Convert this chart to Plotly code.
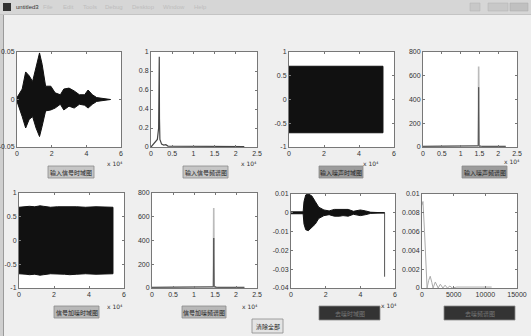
import plotly.graph_objects as go

W, H = 531, 336

# ---------------- data ----------------
# 1) input signal, time domain envelope (samples, amplitude)
sig_x = [0, 3000, 5000, 7000, 9000, 11000, 13000, 14500, 16500, 19500, 22000, 25000,
         27000, 30000, 33000, 36000, 39000, 41000, 43500, 46000, 54000]
sig_up = [0.002, 0.011, 0.029, 0.025, 0.019, 0.035, 0.049, 0.037, 0.014, 0.014, 0.007, 0.005,
          0.011, 0.012, 0.009, 0.005, 0.005, 0.010, 0.005, 0.002, 0.0]
sig_lo = [-0.002, -0.018, -0.030, -0.021, -0.018, -0.030, -0.039, -0.028, -0.012, -0.011, -0.009, -0.005,
          -0.011, -0.007, -0.009, -0.005, -0.006, -0.009, -0.005, -0.002, 0.0]

# 2) input signal spectrum
sf_x = [0, 500, 1000, 1500, 1800, 1950, 2000, 2100, 2500, 3000, 3500, 4000, 22000]
sf_y = [0.0, 0.03, 0.05, 0.08, 0.2, 0.95, 0.3, 0.08, 0.03, 0.02, 0.025, 0.01, 0.005]

# 3) input noise, time domain envelope
noise_x = [0, 53700]
noise_up = [0.70, 0.70]
noise_lo = [-0.70, -0.70]

# 4) input noise spectrum
nf_x = [0, 14000, 14700, 14800, 14900, 15600, 22000]
nf_y = [5, 5, 10, 678, 10, 5, 5]
nf_core = [5, 5, 10, 503, 10, 5, 5]

# 5) signal + noise, time domain envelope
mix_x = [0, 4000, 6000, 9000, 12000, 14000, 18000, 22000, 26000, 29000, 33000, 38000, 44000, 53700]
mix_up = [0.70, 0.71, 0.72, 0.71, 0.73, 0.72, 0.70, 0.71, 0.71, 0.72, 0.71, 0.70, 0.71, 0.70]
mix_lo = [-0.70, -0.71, -0.72, -0.71, -0.73, -0.72, -0.70, -0.71, -0.71, -0.72, -0.71, -0.70, -0.71, -0.70]

# 6) signal + noise spectrum
mf_x = [0, 14000, 14600, 14700, 14800, 15500, 22000]
mf_y = [5, 5, 10, 674, 10, 5, 5]
mf_core = [5, 5, 10, 421, 10, 5, 5]

# 7) denoised, time domain envelope
den_x = [0, 7000, 7500, 8500, 10000, 12000, 14000, 16000, 19000, 22000, 25000, 28000, 30000,
         33000, 36000, 40000, 43000, 46000, 54000]
den_up = [0.0005, 0.0005, 0.006, 0.0095, 0.010, 0.009, 0.006, 0.003, 0.0015, 0.001, 0.0018, 0.0018,
          0.0015, 0.0018, 0.0008, 0.0015, 0.001, 0.0003, 0.0]
den_lo = [-0.0005, -0.0005, -0.006, -0.009, -0.0095, -0.008, -0.006, -0.003, -0.0015, -0.001, -0.0018,
          -0.0018, -0.0015, -0.0018, -0.0008, -0.0015, -0.001, -0.0003, 0.0]
den_end_x = [0, 54000, 54000]
den_end_y = [0.0, 0.0, -0.034]

# 8) denoised spectrum
df_x = [0, 150, 400, 800, 1050, 1300, 1550, 1750, 2100, 2550, 2900, 3300, 3650, 4000, 4400,
        4800, 5500, 11000]
df_y = [0.0088, 0.0092, 0.006, 0.0, 0.0008, 0.00125, 0.0006, 0.0, 0.00064, 0.0, 0.0004, 0.0,
        0.0003, 0.0, 0.0002, 0.0, 0.0001, 0.0001]

# tick labels
t_time_vals = [0, 20000, 40000, 60000]
t_time_text = ["0", "2", "4", "6"]
t_freq_vals = [0, 5000, 10000, 15000, 20000, 25000]
t_freq_text = ["0", "0.5", "1", "1.5", "2", "2.5"]

buttons = ["输入信号时域图", "输入信号频谱图", "输入噪声时域图", "输入噪声频谱图",
           "信号加噪时域图", "信号加噪频谱图", "去噪时域图", "去噪频谱图", "清除全部"]
menu_items = ["File", "Edit", "Tools", "Debug", "Desktop", "Window", "Help"]

# ---------------- figure ----------------
fig = go.Figure()

def px_x(p):
    return p / W

def px_y(p):
    return 1 - p / H

# plot boxes in pixels: (left, right, top, bottom)
boxes = [
    (17, 121, 52, 147), (151, 257, 52, 147), (289, 394, 52, 147), (423, 517, 52, 147),
    (19, 124, 193, 288), (152, 257, 193, 288), (291, 395, 194, 288), (422, 517, 194, 288),
]

def env(i, xs, up, lo):
    fig.add_trace(go.Scatter(x=xs + xs[::-1], y=up + lo[::-1], fill="toself",
                             fillcolor="#111111", line=dict(color="#111111", width=1),
                             mode="lines", xaxis=f"x{i}", yaxis=f"y{i}", hoverinfo="skip"))

def line(i, xs, ys, color, width=1):
    fig.add_trace(go.Scatter(x=xs, y=ys, mode="lines", line=dict(color=color, width=width),
                             xaxis=f"x{i}", yaxis=f"y{i}", hoverinfo="skip"))

env(1, sig_x, sig_up, sig_lo)
line(2, sf_x, sf_y, "#444444", 1.2)
env(3, noise_x, noise_up, noise_lo)
line(4, nf_x, nf_y, "#bbbbbb", 1.6)
line(4, nf_x, nf_core, "#555555", 1)
env(5, mix_x, mix_up, mix_lo)
line(6, mf_x, mf_y, "#bbbbbb", 1.6)
line(6, mf_x, mf_core, "#555555", 1)
line(7, den_end_x, den_end_y, "#555555", 1)
env(7, den_x, den_up, den_lo)
line(8, df_x, df_y, "#aaaaaa", 1)

axis_common = dict(showgrid=False, zeroline=False, showline=True, linecolor="#777777",
                   linewidth=1, mirror="ticks", ticks="inside", ticklen=2, tickcolor="#777777",
                   tickfont=dict(size=7, color="#333333", family="Liberation Sans"),
                   fixedrange=True, automargin=False)

yspecs = [
    ([-0.05, 0.05], [-0.05, 0, 0.05], ["-0.05", "0", "0.05"]),
    ([0, 1], [0, 0.2, 0.4, 0.6, 0.8, 1], ["0", "0.2", "0.4", "0.6", "0.8", "1"]),
    ([-1, 1], [-1, -0.5, 0, 0.5, 1], ["-1", "-0.5", "0", "0.5", "1"]),
    ([0, 800], [0, 200, 400, 600, 800], ["0", "200", "400", "600", "800"]),
    ([-1, 1], [-1, -0.5, 0, 0.5, 1], ["-1", "-0.5", "0", "0.5", "1"]),
    ([0, 800], [0, 200, 400, 600, 800], ["0", "200", "400", "600", "800"]),
    ([-0.04, 0.01], [-0.04, -0.03, -0.02, -0.01, 0, 0.01],
     ["-0.04", "-0.03", "-0.02", "-0.01", "0", "0.01"]),
    ([0, 0.01], [0, 0.002, 0.004, 0.006, 0.008, 0.01],
     ["0", "0.002", "0.004", "0.006", "0.008", "0.01"]),
]
xspecs = [
    ([0, 60000], t_time_vals, t_time_text),
    ([0, 25000], t_freq_vals, t_freq_text),
    ([0, 60000], t_time_vals, t_time_text),
    ([0, 25000], t_freq_vals, t_freq_text),
    ([0, 60000], t_time_vals, t_time_text),
    ([0, 25000], t_freq_vals, t_freq_text),
    ([0, 60000], t_time_vals, t_time_text),
    ([0, 15000], [0, 5000, 10000, 15000], ["0", "5000", "10000", "15000"]),
]

layout = dict(width=W, height=H, margin=dict(l=0, r=0, t=0, b=0, autoexpand=False),
              paper_bgcolor="#efefef", plot_bgcolor="#ffffff", showlegend=False)
for i, (l, r, t, b) in enumerate(boxes, start=1):
    xr, xv, xt = xspecs[i - 1]
    yr, yv, yt = yspecs[i - 1]
    layout[f"xaxis{i}"] = dict(axis_common, domain=[px_x(l), px_x(r)], range=xr,
                               tickvals=xv, ticktext=xt, anchor=f"y{i}")
    layout[f"yaxis{i}"] = dict(axis_common, domain=[px_y(b), px_y(t)], range=yr,
                               tickvals=yv, ticktext=yt, anchor=f"x{i}")
fig.update_layout(**layout)

shapes = []
annos = []

def rect(x0, y0, x1, y1, fill, line_color=None, lw=0):
    shapes.append(dict(type="rect", xref="paper", yref="paper",
                       x0=px_x(x0), x1=px_x(x1), y0=px_y(y1), y1=px_y(y0),
                       fillcolor=fill, line=dict(color=line_color or fill, width=lw), layer="below"))

def text(x, y, s, size=6, color="#222222", xanchor="center", family="Noto Sans CJK SC"):
    annos.append(dict(x=px_x(x), y=px_y(y), xref="paper", yref="paper", text=s, showarrow=False,
                      xanchor=xanchor, yanchor="middle",
                      font=dict(size=size, color=color, family=family)))

# window chrome
rect(0, 0, 531, 14, "#d6d6d6")
rect(0, 14, 531, 15, "#c4c4c4")
rect(0, 15, 3, 336, "#cfcfcf")
rect(3, 15, 4, 336, "#9a9a9a")
rect(3, 3, 11, 11, "#333333")
text(14, 7, "untitled3", size=6, color="#333333", xanchor="left", family="Liberation Sans")
for lbl, xx in zip(menu_items, [48, 68, 90, 114, 143, 174, 200]):
    text(xx, 7, lbl, size=6, color="#bdbdbd", xanchor="center", family="Liberation Sans")
rect(470, 3, 480, 11, "#c8c8c8", "#b0b0b0", 0.5)
rect(488, 3, 508, 11, "#c8c8c8", "#b0b0b0", 0.5)
rect(510, 3, 528, 11, "#c0c0c0", "#a8a8a8", 0.5)

# buttons: (x0, y0, x1, y1, fill, text color)
btn_boxes = [
    (48, 166, 94, 178, "#c6c6c6", "#222222"),
    (183, 166, 228, 178, "#c6c6c6", "#222222"),
    (319, 166, 363, 178, "#9c9c9c", "#222222"),
    (462, 166, 507, 178, "#9c9c9c", "#222222"),
    (54, 306, 99, 318, "#b8b8b8", "#222222"),
    (182, 306, 226, 318, "#b8b8b8", "#222222"),
    (319, 306, 380, 320, "#333333", "#777777"),
    (444, 306, 515, 320, "#333333", "#777777"),
    (252, 319, 283, 333, "#e4e4e4", "#222222"),
]
for (x0, y0, x1, y1, fill, tc), label in zip(btn_boxes, buttons):
    rect(x0, y0, x1, y1, fill, "#8a8a8a", 0.8)
    text((x0 + x1) / 2, (y0 + y1) / 2, label, size=6, color=tc)

# exponent labels
for (xx, yy) in [(115, 163), (249, 163), (371, 163), (512, 161), (115, 306), (250, 306), (389, 305)]:
    text(xx, yy, "x 10⁴", size=6, color="#333333", family="DejaVu Sans")

fig.update_layout(shapes=shapes, annotations=annos)
fig.write_html("out.html", config={"displayModeBar": False, "staticPlot": True},
               post_script="document.body.style.margin='0';document.body.style.overflow='hidden';")
